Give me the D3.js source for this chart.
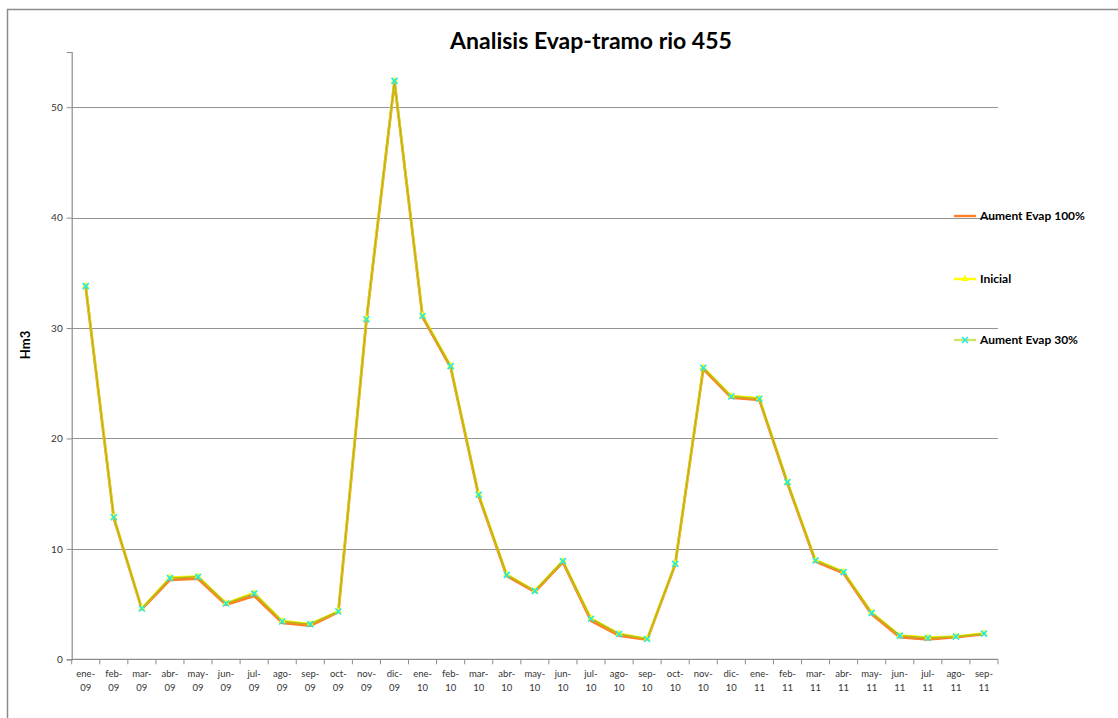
<!DOCTYPE html>
<html>
<head>
<meta charset="utf-8">
<script src="https://cdn.jsdelivr.net/npm/d3@7"></script>
<style>
  html, body { margin: 0; padding: 0; background: #fff; }
  svg { display: block; }
</style>
</head>
<body>
<svg id="chart" width="1118" height="718"></svg>
<script>
// Monthly categories, ene-09 .. sep-11
const months = ["ene","feb","mar","abr","may","jun","jul","ago","sep","oct","nov","dic",
                "ene","feb","mar","abr","may","jun","jul","ago","sep","oct","nov","dic",
                "ene","feb","mar","abr","may","jun","jul","ago","sep"];
const years  = ["09","09","09","09","09","09","09","09","09","09","09","09",
                "10","10","10","10","10","10","10","10","10","10","10","10",
                "11","11","11","11","11","11","11","11","11"];
const categories = months.map((m, i) => m + "-" + years[i]);

// Flow (Hm3) per scenario
const inicial = [33.85, 12.9, 4.62, 7.42, 7.52, 5.1, 6.02, 3.48, 3.22, 4.36, 30.85, 52.4,
                 31.15, 26.6, 14.95, 7.7, 6.22, 8.92, 3.72, 2.32, 1.86, 8.66, 26.45, 23.85,
                 23.65, 16.08, 9.0, 7.95, 4.26, 2.18, 1.98, 2.08, 2.34];
const evap30 =  [33.8, 12.86, 4.6, 7.35, 7.47, 5.05, 5.95, 3.42, 3.18, 4.33, 30.8, 52.38,
                 31.09, 26.55, 14.9, 7.65, 6.2, 8.89, 3.67, 2.29, 1.84, 8.64, 26.4, 23.8,
                 23.6, 16.04, 8.95, 7.9, 4.2, 2.14, 1.93, 2.05, 2.32];
const evap100 = [33.7, 12.8, 4.55, 7.2, 7.3, 4.95, 5.75, 3.3, 3.05, 4.28, 30.7, 52.3,
                 31.0, 26.45, 14.8, 7.55, 6.12, 8.8, 3.5, 2.15, 1.78, 8.58, 26.3, 23.7,
                 23.5, 15.95, 8.85, 7.8, 4.08, 2.0, 1.8, 2.0, 2.28];
const yTicks = [0, 10, 20, 30, 40, 50];

const series = [
  { name: "Aument Evap 100%", values: evap100, color: "#ff7f27", legend: "#ff7f27", width: 2.8, marker: null },
  { name: "Inicial",          values: inicial, color: "#f2f200", legend: "#ffff00", width: 2.2, marker: "triangle" },
  { name: "Aument Evap 30%",  values: evap30,  color: "#b3b31a", legend: "#cfe36a", width: 1.5, marker: "cross" }
];

const svg = d3.select("#chart");
const font = "Lato, 'Open Sans', sans-serif";

// chart frame
svg.append("path")
  .attr("d", "M7.5,718 L7.5,9.5 L1118,9.5")
  .attr("fill", "none").attr("stroke", "#8c8c8c").attr("stroke-width", 1.5);

const plot = { left: 71.7, right: 998, top: 52, bottom: 659.3 };

const x = d3.scaleBand().domain(categories).range([plot.left, plot.right]).padding(0);
const y = d3.scaleLinear().domain([0, 55]).range([plot.bottom, plot.top]);

// horizontal gridlines
svg.append("g").selectAll("line").data(yTicks.filter(d => d > 0)).join("line")
  .attr("x1", plot.left).attr("x2", plot.right)
  .attr("y1", d => Math.round(y(d)) + 0.5).attr("y2", d => Math.round(y(d)) + 0.5)
  .attr("stroke", "#939393").attr("stroke-width", 1.2);

// y axis
const yAxis = svg.append("g").attr("transform", `translate(${plot.left},0)`)
  .call(d3.axisLeft(y).tickValues(yTicks).tickSize(5).tickPadding(4));
yAxis.select(".domain").attr("stroke", "#8c8c8c").attr("stroke-width", 1.2);
yAxis.selectAll(".tick line").attr("stroke", "#8c8c8c");
yAxis.selectAll(".tick text").attr("font-family", font).attr("font-size", 10).attr("fill", "#333");

// x axis with ticks at category boundaries
const xg = svg.append("g").attr("transform", `translate(0,${plot.bottom})`);
xg.append("line").attr("x1", plot.left).attr("x2", plot.right)
  .attr("stroke", "#8c8c8c").attr("stroke-width", 1.2);
const bounds = categories.map(c => x(c)).concat([plot.right]);
xg.selectAll("line.tk").data(bounds).join("line").attr("class", "tk")
  .attr("x1", d => d).attr("x2", d => d).attr("y1", 0).attr("y2", 5)
  .attr("stroke", "#8c8c8c");
const lab = xg.selectAll("text").data(categories).join("text")
  .attr("text-anchor", "middle")
  .attr("font-family", font).attr("font-size", 9.5).attr("fill", "#333");
lab.append("tspan").attr("x", d => x(d) + x.bandwidth() / 2).attr("y", 18)
  .text((d, i) => months[i] + "-");
lab.append("tspan").attr("x", d => x(d) + x.bandwidth() / 2).attr("y", 32)
  .text((d, i) => years[i]);

// series lines
const cx = i => x(categories[i]) + x.bandwidth() / 2;
const line = d3.line().x((d, i) => cx(i)).y(d => y(d));
series.forEach(s => {
  svg.append("path").datum(s.values)
    .attr("d", line).attr("fill", "none")
    .attr("stroke", s.color).attr("stroke-width", s.width)
    .attr("stroke-linejoin", "round");
});

// markers
const tri = d3.symbol().type(d3.symbolTriangle).size(22);
svg.append("g").selectAll("path").data(inicial).join("path")
  .attr("d", tri).attr("transform", (d, i) => `translate(${cx(i)},${y(d)})`)
  .attr("fill", "#ffff00");
const cross = "M-3,-3L3,3M-3,3L3,-3";
svg.append("g").selectAll("path").data(evap30).join("path")
  .attr("d", cross).attr("transform", (d, i) => `translate(${cx(i)},${y(d)})`)
  .attr("stroke", "#22e8e8").attr("stroke-width", 1.6).attr("fill", "none");

// title
svg.append("text").attr("x", 591).attr("y", 49).attr("text-anchor", "middle")
  .attr("font-family", font).attr("font-weight", "bold").attr("font-size", 23)
  .attr("fill", "#000").text("Analisis Evap-tramo rio 455");

// y axis title
svg.append("text").attr("transform", "translate(30,345) rotate(-90)")
  .attr("text-anchor", "middle")
  .attr("font-family", font).attr("font-weight", "bold").attr("font-size", 13)
  .attr("fill", "#000").text("Hm3");

// legend
const legY = [216, 279, 340];
const leg = svg.append("g").selectAll("g").data(series).join("g")
  .attr("transform", (d, i) => `translate(954,${legY[i]})`);
leg.append("line").attr("x1", 0).attr("x2", 22)
  .attr("stroke", d => d.legend).attr("stroke-width", 2.4);
leg.filter(d => d.marker === "triangle").append("path")
  .attr("d", tri).attr("transform", "translate(11,0)").attr("fill", "#ffff00");
leg.filter(d => d.marker === "cross").append("path")
  .attr("d", cross).attr("transform", "translate(11,0)")
  .attr("stroke", "#22e8e8").attr("stroke-width", 1.6);
leg.append("text").attr("x", 26).attr("y", 4)
  .attr("font-family", font).attr("font-weight", "bold").attr("font-size", 12)
  .attr("fill", "#000").text(d => d.name);
</script>
</body>
</html>
